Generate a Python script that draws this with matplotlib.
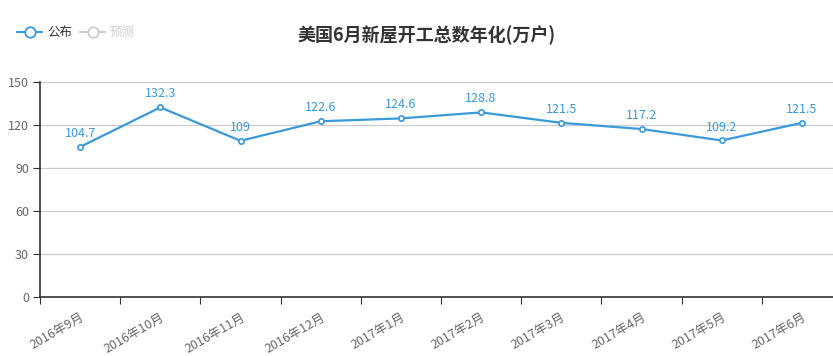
#!/usr/bin/env python3

import matplotlib
matplotlib.use("Agg")
import matplotlib.pyplot as plt
from matplotlib.lines import Line2D

plt.rcParams['font.family'] = ['Noto Sans CJK SC', 'DejaVu Sans']

# data
months = ["2016年9月", "2016年10月", "2016年11月", "2016年12月", "2017年1月",
          "2017年2月", "2017年3月", "2017年4月", "2017年5月", "2017年6月"]
published = [104.7, 132.3, 109, 122.6, 124.6, 128.8, 121.5, 117.2, 109.2, 121.5]
value_labels = ["104.7", "132.3", "109", "122.6", "124.6",
                "128.8", "121.5", "117.2", "109.2", "121.5"]
yticks = [0, 30, 60, 90, 120, 150]

W, H = 833, 356
color = "#3a99d8"

fig = plt.figure(figsize=(W / 100, H / 100), dpi=100)
ax = fig.add_axes([40 / W, (H - 297) / H, (842 - 40) / W, (297 - 82) / H])

x = list(range(len(months)))
ax.plot(x, published, color=color, lw=1.6, marker='o', ms=3.8,
        mfc='white', mec=color, mew=1.2, zorder=3, clip_on=False)
for xi, yi, lab in zip(x, published, value_labels):
    ax.annotate(lab, (xi, yi), xytext=(0, 5), textcoords='offset points',
                ha='center', va='bottom', color=color, fontsize=9)

# axes
ax.set_xlim(-0.5, len(months) - 0.5)
ax.set_ylim(0, 150)
ax.set_yticks(yticks)
ax.set_yticklabels([str(t) for t in yticks], color='#666666', fontsize=9)
ax.yaxis.grid(True, color='#cccccc', lw=0.9)
ax.set_axisbelow(True)

ax.set_xticks([i - 0.5 for i in x])
ax.set_xticklabels([])
ax.set_xticks(x, minor=True)
ax.set_xticklabels(months, minor=True, rotation=30, ha='right',
                   rotation_mode='anchor', color='#666666', fontsize=9)
ax.tick_params(axis='x', which='minor', length=0, pad=10)
ax.tick_params(axis='x', which='major', length=5, color='#333333')
ax.tick_params(axis='y', length=5, color='#333333', pad=3)

for side in ['top', 'right']:
    ax.spines[side].set_visible(False)
for side in ['left', 'bottom']:
    ax.spines[side].set_color('#333333')
    ax.spines[side].set_linewidth(1.2)

# title
fig.text(427 / W, 1 - 35 / H, "美国6月新屋开工总数年化(万户)", ha='center',
         va='center', fontsize=13, fontweight='bold', color='#333333')

# legend
def legend_item(x0, label, c, tc):
    y = 1 - 32 / H
    fig.add_artist(Line2D([x0 / W, (x0 + 25) / W], [y, y], color=c, lw=1.4))
    fig.add_artist(Line2D([(x0 + 12.5) / W], [y], marker='o', ms=7.5,
                          mfc='white', mec=c, mew=1.3))
    fig.text((x0 + 30) / W, y, label, ha='left', va='center',
             fontsize=9, color=tc)

legend_item(17, "公布", color, '#333333')
legend_item(80, "预测", '#cccccc', '#cccccc')

fig.savefig("out.png", dpi=100)
